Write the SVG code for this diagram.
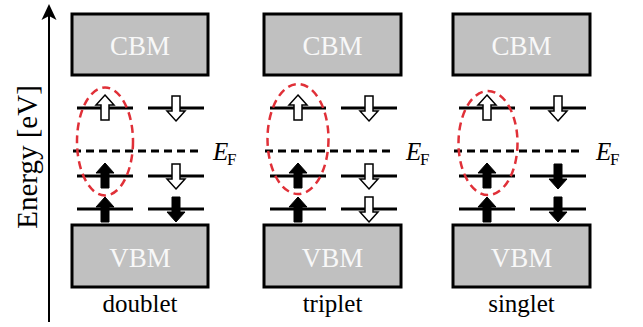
<svg xmlns="http://www.w3.org/2000/svg" width="643" height="327" viewBox="0 0 643 327">
<style>
text{font-family:"Liberation Serif","Times New Roman",Tinos,"DejaVu Serif",serif}
.box{fill:#c0c0c0;stroke:#000;stroke-width:3}
.boxt{font-size:27px;fill:#f8f8f8;text-anchor:middle}
.lbl{font-size:25px;fill:#000;text-anchor:middle}
.lvl{stroke:#000;stroke-width:3;fill:none}
.ef{stroke:#000;stroke-width:3;fill:none;stroke-dasharray:8 5}
.ell{fill:none;stroke:#e03038;stroke-width:2.5;stroke-dasharray:8 5}
.hol{fill:#fff;stroke:#000;stroke-width:1.5}
.fil{fill:#000;stroke:#000;stroke-width:1}
.eft{fill:#000}
</style>
<defs>
<path id="up" d="M0,0 L9,10 L4,10 L4,25 L-4,25 L-4,10 L-9,10 Z"/>
<path id="dn" d="M0,25 L9,15 L4,15 L4,0 L-4,0 L-4,15 L-9,15 Z"/>
</defs>
<g id="axis">
<line x1="49" y1="322" x2="49" y2="14" stroke="#000" stroke-width="2"/>
<path d="M49,4 L56.5,20 L49,16 L41.5,20 Z" fill="#000"/>
<text transform="translate(37,157) rotate(-90)" font-size="29" text-anchor="middle">Energy [eV]</text>
</g>
<g id="doublet">
<rect class="box" x="72" y="14" width="136" height="61"/>
<text class="boxt" x="140" y="55">CBM</text>
<rect class="box" x="72" y="225" width="136" height="62"/>
<text class="boxt" x="140" y="267">VBM</text>
<line class="lvl" x1="77" y1="108" x2="133" y2="108"/>
<line class="lvl" x1="148" y1="108" x2="204" y2="108"/>
<line class="ef" x1="73" y1="151" x2="202" y2="151"/>
<line class="lvl" x1="77" y1="176" x2="133" y2="176"/>
<line class="lvl" x1="148" y1="176" x2="204" y2="176"/>
<line class="lvl" x1="77" y1="209" x2="133" y2="209"/>
<line class="lvl" x1="148" y1="209" x2="204" y2="209"/>
<use href="#up" class="hol" x="105" y="95"/>
<use href="#dn" class="hol" x="176" y="96"/>
<use href="#up" class="fil" x="105" y="163"/>
<use href="#dn" class="hol" x="176" y="164"/>
<use href="#up" class="fil" x="105" y="197"/>
<use href="#dn" class="fil" x="176" y="197"/>
<text class="eft" x="213" y="160" font-size="25" font-style="italic">E</text>
<text class="eft" x="227" y="165" font-size="17">F</text>
<text class="lbl" x="140" y="312">doublet</text>
</g>
<g id="triplet">
<rect class="box" x="264" y="14" width="137" height="61"/>
<text class="boxt" x="332.5" y="55">CBM</text>
<rect class="box" x="264" y="225" width="137" height="62"/>
<text class="boxt" x="332.5" y="267">VBM</text>
<line class="lvl" x1="270" y1="108" x2="326" y2="108"/>
<line class="lvl" x1="341" y1="108" x2="397" y2="108"/>
<line class="ef" x1="265" y1="151" x2="394" y2="151"/>
<line class="lvl" x1="270" y1="176" x2="326" y2="176"/>
<line class="lvl" x1="341" y1="176" x2="397" y2="176"/>
<line class="lvl" x1="270" y1="209" x2="326" y2="209"/>
<line class="lvl" x1="341" y1="209" x2="397" y2="209"/>
<use href="#up" class="hol" x="298" y="95"/>
<use href="#dn" class="hol" x="369" y="96"/>
<use href="#up" class="fil" x="298" y="163"/>
<use href="#dn" class="hol" x="369" y="164"/>
<use href="#up" class="fil" x="298" y="197"/>
<use href="#dn" class="hol" x="369" y="197"/>
<text class="eft" x="406" y="160" font-size="25" font-style="italic">E</text>
<text class="eft" x="420" y="165" font-size="17">F</text>
<text class="lbl" x="332.5" y="312">triplet</text>
</g>
<g id="singlet">
<rect class="box" x="453" y="14" width="137" height="61"/>
<text class="boxt" x="521.5" y="55">CBM</text>
<rect class="box" x="453" y="225" width="137" height="62"/>
<text class="boxt" x="521.5" y="267">VBM</text>
<line class="lvl" x1="459" y1="108" x2="515" y2="108"/>
<line class="lvl" x1="530" y1="108" x2="586" y2="108"/>
<line class="ef" x1="454" y1="151" x2="583" y2="151"/>
<line class="lvl" x1="459" y1="176" x2="515" y2="176"/>
<line class="lvl" x1="530" y1="176" x2="586" y2="176"/>
<line class="lvl" x1="459" y1="209" x2="515" y2="209"/>
<line class="lvl" x1="530" y1="209" x2="586" y2="209"/>
<use href="#up" class="hol" x="487" y="95"/>
<use href="#dn" class="hol" x="558" y="96"/>
<use href="#up" class="fil" x="487" y="163"/>
<use href="#dn" class="fil" x="558" y="164"/>
<use href="#up" class="fil" x="487" y="197"/>
<use href="#dn" class="fil" x="558" y="197"/>
<text class="eft" x="596" y="160" font-size="25" font-style="italic">E</text>
<text class="eft" x="610" y="165" font-size="17">F</text>
<text class="lbl" x="521.5" y="312">singlet</text>
</g>
<g id="connectors">
<ellipse class="ell" cx="105" cy="141.5" rx="28" ry="54"/>
<ellipse class="ell" cx="298" cy="139" rx="30.5" ry="55"/>
<ellipse class="ell" cx="488" cy="143" rx="29.5" ry="52"/>
</g>
</svg>
